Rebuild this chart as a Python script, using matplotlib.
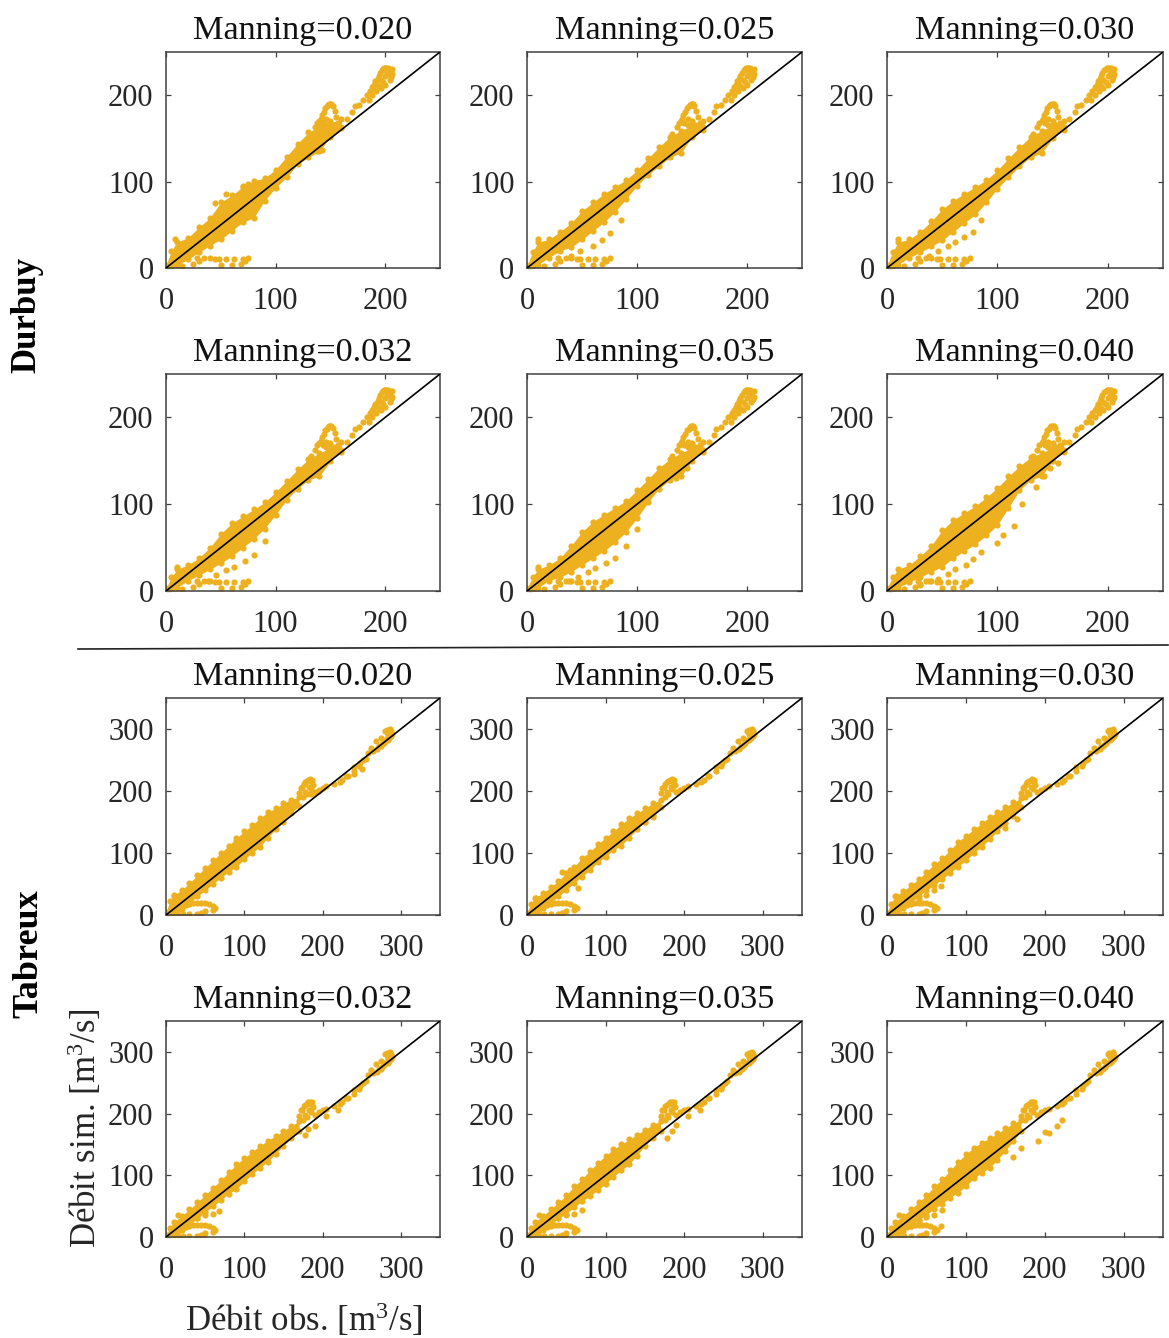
import matplotlib
matplotlib.use('Agg')
import matplotlib.pyplot as plt
from matplotlib.lines import Line2D

plt.rcParams['font.family'] = ['Liberation Serif', 'DejaVu Serif']
plt.rcParams['mathtext.fontset'] = 'custom'
plt.rcParams['mathtext.rm'] = 'Liberation Serif'
plt.rcParams['mathtext.default'] = 'rm'

manning = ['0.020', '0.025', '0.030', '0.032', '0.035', '0.040']

# dense part of the clouds: lower and upper edge at each observed flow
durbuy_x = [0, 5, 10, 20, 30, 40, 50, 60, 70, 80, 90, 100, 110, 120, 130, 140, 150, 160]
durbuy_hi = {
    '0.020': [3, 20, 30, 35, 47, 58, 76, 84, 94, 101, 104, 114, 129, 144, 157, 164, 168, 172],
    '0.025': [3, 18, 30, 33, 42, 52, 66, 76, 86, 94, 102, 113, 127, 140, 152, 159, 165, 170],
    '0.030': [3, 18, 30, 33, 42, 54, 68, 78, 86, 94, 102, 113, 127, 140, 152, 159, 165, 170],
    '0.032': [3, 16, 25, 30, 38, 50, 66, 78, 86, 94, 102, 114, 127, 140, 152, 159, 165, 172],
    '0.035': [3, 16, 25, 30, 38, 52, 68, 80, 88, 96, 104, 116, 129, 142, 152, 159, 165, 172],
    '0.040': [3, 16, 25, 30, 40, 52, 70, 82, 90, 98, 108, 119, 132, 144, 154, 159, 165, 172],
}
durbuy_lo = {
    '0.020': [0, 0, 3, 10, 18, 26, 33, 43, 53, 58, 78, 93, 105, 120, 128, 135, 152, 162],
    '0.025': [0, 0, 4, 12, 20, 24, 33, 43, 53, 65, 80, 95, 108, 118, 128, 133, 152, 160],
    '0.030': [0, 0, 4, 12, 18, 25, 32, 42, 52, 62, 76, 92, 105, 118, 128, 133, 150, 160],
    '0.032': [0, 0, 4, 12, 18, 25, 32, 40, 50, 60, 72, 88, 105, 118, 128, 132, 150, 160],
    '0.035': [0, 0, 4, 12, 16, 22, 30, 38, 46, 56, 68, 84, 102, 118, 128, 132, 150, 160],
    '0.040': [0, 0, 4, 10, 16, 22, 28, 38, 46, 54, 64, 76, 96, 116, 128, 132, 150, 160],
}
# loops near the peaks and the low tail, nearly the same in all Durbuy panels
durbuy_peak_x = [132, 136, 140, 142, 145, 148, 150, 152, 154, 155, 157, 160, 146, 150, 153, 165, 170, 172, 176,
                 180, 186, 190, 194, 198, 200, 203, 206, 206, 204, 200, 196, 192, 188, 185, 196, 200, 202,
                 138, 141, 144, 147, 149, 151, 143, 146, 148, 188, 191, 193, 195, 197, 199, 201, 204, 205,
                 183, 186, 189, 192, 194, 198]
durbuy_peak_y = [155, 163, 170, 177, 185, 189, 190, 188, 182, 175, 168, 163, 172, 170, 166, 172, 180, 187, 189,
                 195, 205, 212, 222, 230, 231, 231, 230, 224, 218, 212, 208, 205, 200, 195, 218, 222, 226,
                 168, 173, 181, 187, 190, 190, 168, 166, 160, 209, 216, 219, 226, 229, 231, 231, 228, 221,
                 200, 203, 208, 214, 211, 215]
durbuy_tail_x = [15, 25, 28, 30, 35, 40, 45, 48, 50, 55, 60, 62, 68, 70, 72, 75]
durbuy_tail_y = [2, 5, 12, 8, 12, 12, 10, 10, 3, 10, 3, 10, 5, 10, 8, 11]
durbuy_extra_x = {
    '0.020': [8, 45, 55, 70, 75, 138, 142],
    '0.025': [10, 40, 48, 60, 68, 75, 85, 138],
    '0.030': [10, 38, 46, 55, 62, 70, 78, 85, 138],
    '0.032': [10, 38, 46, 55, 62, 72, 80, 90, 138],
    '0.035': [10, 38, 46, 55, 62, 72, 80, 90, 100, 135, 145],
    '0.040': [30, 38, 46, 55, 62, 72, 78, 85, 100, 105, 115, 122, 135, 142, 148, 155],
}
durbuy_extra_y = {
    '0.020': [33, 75, 86, 95, 97, 135, 137],
    '0.025': [33, 14, 20, 26, 32, 40, 55, 135],
    '0.030': [33, 14, 20, 26, 30, 36, 42, 55, 135],
    '0.032': [28, 12, 18, 24, 28, 34, 42, 58, 135],
    '0.035': [28, 12, 16, 22, 26, 32, 38, 52, 72, 130, 142],
    '0.040': [7, 12, 14, 20, 25, 30, 37, 45, 55, 65, 75, 100, 120, 132, 142, 148],
}

tabreux_x = [0, 5, 10, 20, 30, 40, 50, 60, 70, 80, 90, 100, 110, 120, 130, 140, 150, 160, 170]
tabreux_hi = {
    '0.020': [5, 22, 32, 40, 52, 64, 76, 88, 100, 112, 124, 135, 145, 156, 166, 172, 180, 186, 190],
    '0.025': [4, 18, 28, 35, 45, 55, 68, 78, 92, 102, 114, 125, 135, 146, 156, 164, 172, 180, 186],
    '0.030': [4, 18, 30, 38, 48, 58, 70, 82, 92, 105, 118, 128, 138, 148, 158, 166, 174, 182, 188],
    '0.032': [4, 15, 24, 34, 45, 56, 68, 80, 92, 105, 118, 128, 138, 148, 156, 164, 172, 180, 188],
    '0.035': [4, 15, 24, 34, 45, 56, 68, 82, 94, 108, 120, 132, 142, 150, 158, 166, 174, 182, 188],
    '0.040': [4, 15, 24, 34, 45, 56, 68, 82, 94, 108, 122, 134, 145, 153, 160, 168, 176, 184, 190],
}
tabreux_lo = {
    '0.020': [0, 0, 3, 10, 20, 30, 40, 50, 60, 70, 78, 90, 100, 110, 125, 138, 150, 165, 176],
    '0.025': [0, 0, 3, 12, 20, 30, 40, 52, 62, 72, 85, 94, 105, 112, 125, 138, 150, 162, 174],
    '0.030': [0, 0, 3, 12, 20, 30, 40, 48, 58, 68, 78, 88, 100, 110, 122, 135, 148, 160, 174],
    '0.032': [0, 0, 3, 12, 20, 30, 40, 50, 60, 70, 78, 90, 102, 112, 122, 135, 148, 160, 172],
    '0.035': [0, 0, 3, 12, 20, 30, 38, 48, 58, 66, 76, 86, 98, 108, 118, 132, 148, 160, 172],
    '0.040': [0, 0, 3, 10, 18, 28, 36, 46, 54, 64, 72, 82, 95, 104, 112, 125, 140, 155, 172],
}
tabreux_peak_x = [172, 176, 180, 184, 187, 188, 185, 180, 190, 195, 200, 205, 215, 225, 232, 240, 247, 252, 258,
                  262, 268, 275, 282, 286, 289, 285, 280, 272, 265, 255, 248, 240, 230, 222, 283, 280, 286,
                  170, 174, 178, 182, 186, 183, 178, 175, 276, 279, 284, 287, 288, 283, 278, 274, 270]
tabreux_peak_y = [205, 212, 216, 219, 218, 210, 203, 195, 198, 202, 205, 208, 212, 218, 225, 232, 240, 250, 262,
                  270, 280, 285, 298, 300, 292, 285, 282, 272, 265, 252, 245, 238, 225, 215, 292, 296, 296,
                  196, 206, 214, 218, 214, 206, 198, 190, 276, 280, 288, 296, 288, 282, 278, 272, 268]
tabreux_tail_x = [10, 15, 20, 30, 40, 50, 60, 63, 60, 50, 45, 40, 30, 22, 15, 25, 35, 45, 55]
tabreux_tail_y = [5, 10, 14, 18, 20, 20, 15, 12, 8, 7, 3, 2, 1, 2, 2, 16, 19, 20, 18]
tabreux_extra_x = {
    '0.020': [10, 20, 55, 90, 150, 185, 195, 240, 250],
    '0.025': [12, 45, 55, 65, 150, 160],
    '0.030': [12, 40, 50, 60, 68, 150, 165],
    '0.032': [15, 30, 40, 50, 60, 68, 48, 190, 205, 220, 178, 182],
    '0.035': [15, 30, 40, 50, 60, 70, 48, 190, 205, 220, 178, 185],
    '0.040': [15, 30, 40, 50, 60, 70, 48, 68, 192, 200, 205, 215, 222, 160, 170],
}
tabreux_extra_y = {
    '0.020': [30, 30, 72, 120, 160, 195, 200, 228, 235],
    '0.025': [28, 70, 72, 43, 150, 158],
    '0.030': [30, 26, 32, 40, 46, 140, 155],
    '0.032': [35, 25, 30, 35, 37, 42, 3, 180, 196, 205, 165, 175],
    '0.035': [35, 25, 30, 35, 37, 44, 3, 182, 196, 205, 160, 172],
    '0.040': [35, 22, 28, 32, 36, 44, 3, 18, 155, 170, 168, 180, 190, 130, 145],
}

colour = '#EDB120'
frame = '#404040'
W, H = 1169, 1338
col_px = [(166, 440), (527, 802), (887, 1163)]
row_px = [(52, 268), (374, 591), (698, 915), (1021, 1237)]


def draw_panel(col, row, name, lim, ticks):
    left, right = col_px[col]
    top, bottom = row_px[row]
    ax = fig.add_axes([left / W, 1 - bottom / H, (right - left) / W, (bottom - top) / H])
    if row < 2:
        xs, lo, hi = durbuy_x, durbuy_lo[name], durbuy_hi[name]
        px, py = durbuy_peak_x, durbuy_peak_y
        tx, ty = durbuy_tail_x, durbuy_tail_y
        ex, ey = durbuy_extra_x[name], durbuy_extra_y[name]
    else:
        xs, lo, hi = tabreux_x, tabreux_lo[name], tabreux_hi[name]
        px, py = tabreux_peak_x, tabreux_peak_y
        tx, ty = tabreux_tail_x, tabreux_tail_y
        ex, ey = tabreux_extra_x[name], tabreux_extra_y[name]
    ax.fill_between(xs, lo, hi, color=colour, lw=0, zorder=2)
    for a, b in [(xs, lo), (xs, hi), (px, py), (tx, ty), (ex, ey)]:
        ax.scatter(a, b, s=20, color=colour, lw=0, zorder=2)
    ax.plot([0, lim], [0, lim], color='black', lw=1.2, zorder=3)
    ax.set_xlim(0, lim)
    ax.set_ylim(0, lim)
    ax.set_xticks(ticks)
    ax.set_yticks(ticks)
    ax.tick_params(direction='in', top=True, right=True, length=3.5, width=0.9,
                   color=frame, labelcolor='#262626', labelsize=22)
    ax.tick_params(axis='x', pad=14)
    ax.tick_params(axis='y', pad=9)
    for s in ax.spines.values():
        s.set_color(frame)
        s.set_linewidth(1.1)
    ax.set_title('Manning=' + name, fontsize=24.7, color='#111111', pad=9.5)


fig = plt.figure(figsize=(W / 100, H / 100), dpi=100)

for i, name in enumerate(manning):
    draw_panel(i % 3, i // 3, name, 250, [0, 100, 200])
    draw_panel(i % 3, 2 + i // 3, name, 350, [0, 100, 200, 300])

fig.add_artist(Line2D([78 / W, 1168 / W], [1 - 649 / H, 1 - 645 / H], color='#222222', lw=1.2))

fig.text(27 / W, 1 - 315 / H, 'Durbuy', rotation=90, fontsize=25, fontweight='bold', ha='center', va='center')
fig.text(29 / W, 1 - 954 / H, 'Tabreux', rotation=90, fontsize=26, fontweight='bold', ha='center', va='center')
fig.text(85 / W, 1 - 1128 / H, 'Débit sim. [m$^3$/s]', rotation=90, fontsize=25, color='#262626',
         ha='center', va='center')
fig.text(304 / W, 1 - 1320 / H, 'Débit obs. [m$^3$/s]', fontsize=25, color='#262626', ha='center', va='center')

fig.savefig('out.png', dpi=100)
